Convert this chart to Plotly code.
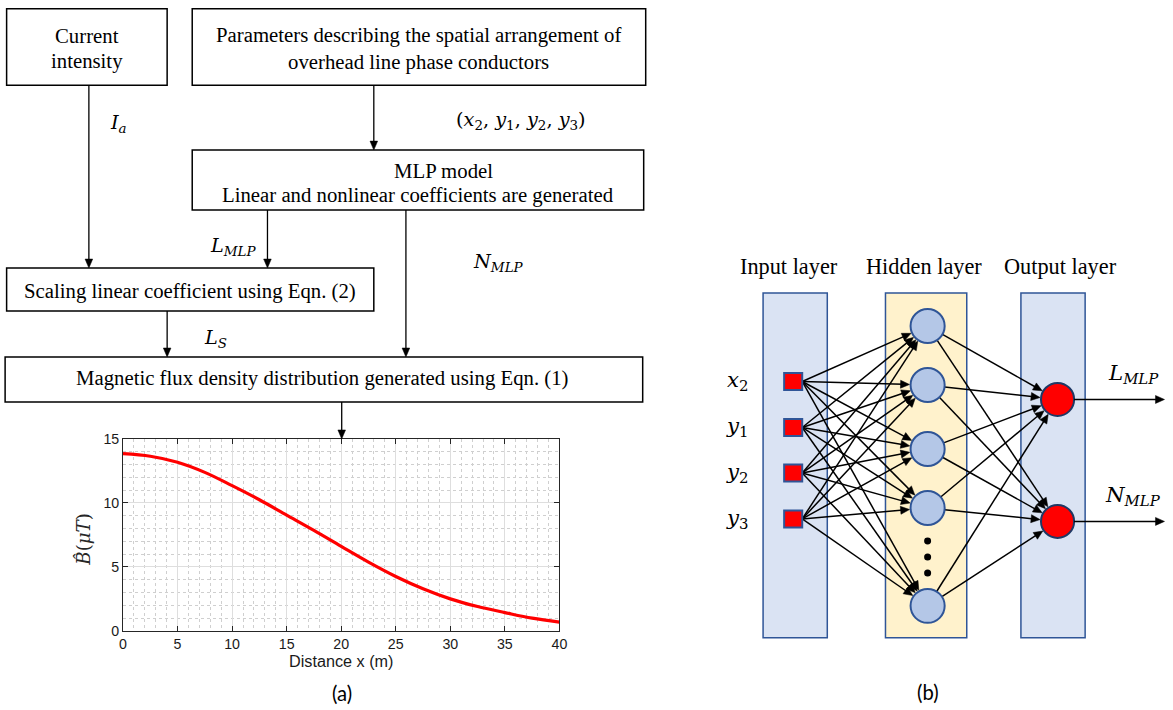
import math
import plotly.graph_objects as go

# ---------------- data ----------------
distance_m = [0, 2.5, 5, 7.5, 10, 12.5, 15, 17.5, 20, 22.5, 25, 27.5, 30, 32.5, 35, 37.5, 40]
b_hat_uT = [13.85, 13.65, 13.18, 12.39, 11.35, 10.25, 9.05, 7.85, 6.6, 5.37, 4.25, 3.29, 2.5, 1.9, 1.43, 0.99, 0.68]
x_ticks = [0, 5, 10, 15, 20, 25, 30, 35, 40]
y_ticks = [0, 5, 10, 15]

input_labels = ["<i>x</i><sub>2</sub>", "<i>y</i><sub>1</sub>", "<i>y</i><sub>2</sub>", "<i>y</i><sub>3</sub>"]
output_labels = ["<i>L</i><sub><i>MLP</i></sub>", "<i>N</i><sub><i>MLP</i></sub>"]
layer_titles = ["Input layer", "Hidden layer", "Output layer"]

# ---------------- layout constants ----------------
W, H = 1173, 710
PAGE_M = 8                                   # page margin around the figure
SX, SY = W / (W + 2 * PAGE_M), H / (H + 2 * PAGE_M)
XSHIFT = 2.5
XR = [PAGE_M * SX - XSHIFT, (W + PAGE_M) * SX - XSHIFT]   # overlay range: data units = picture pixels
YR = [(H + PAGE_M) * SY, PAGE_M * SY]
FS = 1 / SX                                  # font compensation

SERIF = "Liberation Serif, Times New Roman, Times, DejaVu Serif, serif"
MATH = "DejaVu Serif, Liberation Serif, serif"
BLUE_EDGE = "#2f5597"

fig = go.Figure()
fig.add_trace(go.Scatter(x=[None], y=[None], xaxis="x", yaxis="y", showlegend=False, hoverinfo="skip"))

shapes = []
annos = []


def rect(x0, y0, x1, y1, fill="white", line="black", lw=1.5):
    shapes.append(dict(type="rect", xref="x", yref="y", x0=x0, y0=y0, x1=x1, y1=y1,
                       fillcolor=fill, line=dict(color=line, width=lw)))


def seg(x0, y0, x1, y1, color="black", lw=1.3):
    shapes.append(dict(type="line", xref="x", yref="y", x0=x0, y0=y0, x1=x1, y1=y1,
                       line=dict(color=color, width=lw)))


def arrow(x0, y0, x1, y1, lw=1.3, hl=9, hw=3.8):
    dx, dy = x1 - x0, y1 - y0
    d = math.hypot(dx, dy)
    ux, uy = dx / d, dy / d
    nx, ny = -uy, ux
    bx, by = x1 - ux * hl, y1 - uy * hl
    seg(x0, y0, x1 - ux * hl * 0.7, y1 - uy * hl * 0.7, lw=lw)
    shapes.append(dict(type="path", xref="x", yref="y",
                       path=f"M {x1:.2f},{y1:.2f} L {bx + nx * hw:.2f},{by + ny * hw:.2f} "
                            f"L {bx - nx * hw:.2f},{by - ny * hw:.2f} Z",
                       fillcolor="black", line=dict(color="black", width=0.5)))


def text(x, y, s, size=20.5, family=SERIF, color="black", angle=0, xanchor="center"):
    annos.append(dict(x=x, y=y, xref="x", yref="y", text=s, showarrow=False,
                      font=dict(family=family, size=size * FS, color=color), textangle=angle,
                      xanchor=xanchor, yanchor="middle"))


# ---------------- flowchart (a) ----------------
rect(8, 8.6, 168, 85)
text(88, 35, "Current")
text(88, 61, "intensity")
rect(193, 8.6, 645, 85)
text(419, 35, "Parameters describing the spatial arrangement of")
text(419, 62, "overhead line phase conductors")

arrow(374, 85, 374, 150)
text(521, 120, "(<i>x</i><sub>2</sub>, <i>y</i><sub>1</sub>, <i>y</i><sub>2</sub>, <i>y</i><sub>3</sub>)", size=19, family=MATH)
arrow(90, 85, 90, 268)
text(120, 123, "<i>I</i><sub><i>a</i></sub>", size=19, family=MATH)

rect(193, 150, 643, 210)
text(443, 170, "MLP model")
text(418, 195, "Linear and nonlinear coefficients are generated")

arrow(268, 210, 268, 268)
text(234, 246, output_labels[0], size=19, family=MATH)
arrow(406, 210, 406, 357)
text(498, 262, output_labels[1], size=19, family=MATH)

rect(8, 268, 374, 311)
text(191, 291, "Scaling linear coefficient using Eqn. (2)")
arrow(168, 311, 168, 357)
text(216, 338, "<i>L</i><sub><i>S</i></sub>", size=19, family=MATH)

rect(6.5, 357, 642, 402)
text(323, 378, "Magnetic flux density distribution generated using Eqn. (1)")
arrow(342, 402, 342, 439)

# chart annotations
text(85, 539, "<i>B\u0302</i>(<i>\u03bcT</i>)", size=18, family=MATH, color="#262626", angle=-90)
text(342, 693, "(a)", size=20, family="Lato")

# ---------------- network (b) ----------------
col_x = [788, 922, 1058]
layer_boxes = [(762, 826, "#dae3f3"), (884, 965, "#fff2cc"), (1019, 1083, "#dae3f3")]
for (x0, x1, fc), t, cx in zip(layer_boxes, layer_titles, col_x):
    rect(x0, 293, x1, 638, fill=fc, line=BLUE_EDGE, lw=1.5)
    text(cx, 266, t, size=22)

in_x = 792
in_y = [381.5, 427.5, 473, 519]
sq = 9
hid_x = 926
hid_y = [326, 385, 449, 508, 606]
hr = 17
out_x = 1055.5
out_y = [399.5, 521.5]
orad = 16.5

for yv, lab in zip(in_y, input_labels):
    text(736, yv, lab, size=21, family=MATH)

# input -> hidden arrows
for yi in in_y:
    for yh in hid_y:
        x0, y0 = in_x + sq, yi
        dx, dy = hid_x - x0, yh - y0
        d = math.hypot(dx, dy)
        arrow(x0, y0, hid_x - dx / d * (hr + 1), yh - dy / d * (hr + 1), lw=1.5, hl=9, hw=4)

# hidden -> output arrows
for yh in hid_y:
    for yo in out_y:
        dx, dy = out_x - hid_x, yo - yh
        d = math.hypot(dx, dy)
        arrow(hid_x + dx / d * hr, yh + dy / d * hr, out_x - dx / d * (orad + 1), yo - dy / d * (orad + 1),
              lw=1.5, hl=9, hw=4)

for yi in in_y:
    rect(in_x - sq, yi - 8.5, in_x + sq, yi + 8.5, fill="#ff0000", line=BLUE_EDGE, lw=2)
for yh in hid_y:
    shapes.append(dict(type="circle", xref="x", yref="y", x0=hid_x - hr, x1=hid_x + hr,
                       y0=yh - hr, y1=yh + hr, fillcolor="#b4c7e7", line=dict(color=BLUE_EDGE, width=2)))
for yd in [541, 557, 573]:
    shapes.append(dict(type="circle", xref="x", yref="y", x0=hid_x - 3.5, x1=hid_x + 3.5,
                       y0=yd - 3.5, y1=yd + 3.5, fillcolor="black", line=dict(color="black", width=0)))
for yo, lab in zip(out_y, output_labels):
    shapes.append(dict(type="circle", xref="x", yref="y", x0=out_x - orad, x1=out_x + orad,
                       y0=yo - orad, y1=yo + orad, fillcolor="#ff0000", line=dict(color="#1f3864", width=2)))
    arrow(out_x + orad, yo, XR[1] - 0.5, yo, lw=1.5, hl=9, hw=4)
    text(1131, yo - 25, lab, size=21, family=MATH)

text(926, 692, "(b)", size=20, family="Lato")

# ---------------- line chart ----------------
fig.add_trace(go.Scatter(x=distance_m, y=b_hat_uT, mode="lines", xaxis="x2", yaxis="y2",
                         line=dict(color="#ff0000", width=3.2, shape="spline", smoothing=1.0),
                         showlegend=False, hoverinfo="skip"))

px0, px1, py0, py1 = 124, 559, 439, 631


def fx(t):
    return (t - XR[0]) / (XR[1] - XR[0])


def fy(t):
    return (YR[0] - t) / (YR[0] - YR[1])


axis_common = dict(showline=True, linecolor="#262626", linewidth=1, mirror="ticks",
                   ticks="inside", ticklen=5, tickcolor="#262626", showgrid=True,
                   gridcolor="#dedede", gridwidth=1, zeroline=False,
                   tickfont=dict(family="Liberation Sans", size=14 * FS, color="#1a1a1a"),
                   minor=dict(showgrid=True, gridcolor="#cfcfcf", griddash="dot", gridwidth=1, dtick=1, ticks=""))

fig.update_layout(
    width=W, height=H, autosize=False,
    margin=dict(l=0, r=0, t=0, b=0),
    paper_bgcolor="white", plot_bgcolor="rgba(0,0,0,0)",
    xaxis=dict(range=XR, domain=[0, 1], visible=False, fixedrange=True),
    yaxis=dict(range=YR, domain=[0, 1], visible=False, fixedrange=True),
    xaxis2=dict(domain=[fx(px0), fx(px1)], anchor="y2", range=[0, 40], tickvals=x_ticks,
                title=dict(text="Distance x (m)", font=dict(family="Liberation Sans", size=16 * FS, color="#1a1a1a"),
                           standoff=3),
                **axis_common),
    yaxis2=dict(domain=[fy(py1), fy(py0)], anchor="x2", range=[0, 15], tickvals=y_ticks,
                **axis_common),
    shapes=shapes,
    annotations=annos,
)

fig.write_html("out.html")
